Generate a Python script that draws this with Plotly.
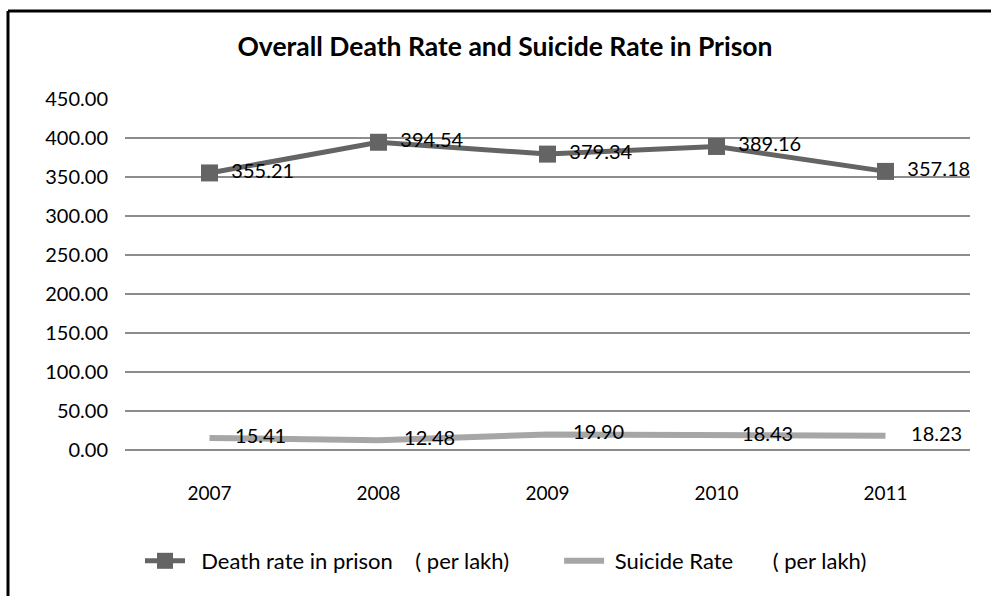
import plotly.graph_objects as go

years = ["2007", "2008", "2009", "2010", "2011"]
death_rate = [355.21, 394.54, 379.34, 389.16, 357.18]
suicide_rate = [15.41, 12.48, 19.90, 18.43, 18.23]
y_ticks = [0, 50, 100, 150, 200, 250, 300, 350, 400, 450]

W, H = 991, 596
FONT = "Lato, 'Open Sans', sans-serif"
NB = "\u00a0"

fig = go.Figure()

fig.add_trace(go.Scatter(
    x=years, y=death_rate,
    mode="lines+markers+text",
    name=NB * 2 + "Death rate in prison" + NB * 4 + "( per lakh)" + NB * 8,
    line=dict(color="#646464", width=5),
    marker=dict(symbol="square", size=17, color="#646464"),
    text=[NB * 2 + f"{v:.2f}" for v in death_rate],
    textposition="middle right",
    textfont=dict(size=20, color="#000000", family=FONT),
    cliponaxis=False,
))

fig.add_trace(go.Scatter(
    x=years, y=suicide_rate,
    mode="lines+text",
    name=NB + "Suicide Rate" + NB * 7 + "( per lakh)",
    line=dict(color="#a6a6a6", width=6),
    text=[NB * 5 + f"{v:.2f}" for v in suicide_rate],
    textposition="middle right",
    textfont=dict(size=20, color="#000000", family=FONT),
    cliponaxis=False,
))

fig.update_layout(
    width=W, height=H,
    autosize=False,
    margin=dict(l=0, r=0, t=0, b=0, pad=0, autoexpand=False),
    paper_bgcolor="white",
    plot_bgcolor="white",
    font=dict(family=FONT, size=20, color="#000000"),
    title=dict(
        text="<b>Overall Death Rate and Suicide Rate in Prison</b>",
        x=505 / W, xanchor="center",
        y=1 - 47 / H, yanchor="middle",
        font=dict(size=26.5, family=FONT, color="#000000"),
        automargin=False,
    ),
    xaxis=dict(
        domain=[125 / W, 970 / W],
        range=[-0.5, 4.5],
        type="category",
        automargin=False,
        showgrid=False, showline=False, zeroline=False,
        ticks="", ticklabelstandoff=30,
        tickfont=dict(size=19, family=FONT),
    ),
    yaxis=dict(
        domain=[1 - 450 / H, 1 - 99 / H],
        range=[0, 450],
        automargin=False,
        tickvals=y_ticks,
        ticktext=[f"{v:.2f}" for v in y_ticks],
        showgrid=True, gridcolor="#8c8c8c", gridwidth=2,
        zeroline=True, zerolinecolor="#8c8c8c", zerolinewidth=2,
        showline=False, ticks="",
        ticklabelstandoff=16,
        tickfont=dict(size=20, family=FONT),
    ),
    legend=dict(
        orientation="h",
        x=140 / W, xanchor="left",
        y=1 - 561 / H, yanchor="middle",
        font=dict(size=22, family=FONT),
        itemwidth=40,
        tracegroupgap=0,
    ),
    shapes=[
        dict(type="line", xref="paper", yref="paper",
             x0=8 / W, x1=1.0, y0=1 - 11 / H, y1=1 - 11 / H,
             line=dict(color="#000000", width=3)),
        dict(type="line", xref="paper", yref="paper",
             x0=8 / W, x1=8 / W, y0=1 - 11 / H, y1=0,
             line=dict(color="#000000", width=3)),
    ],
    showlegend=True,
)

fig.write_html("out.html")
